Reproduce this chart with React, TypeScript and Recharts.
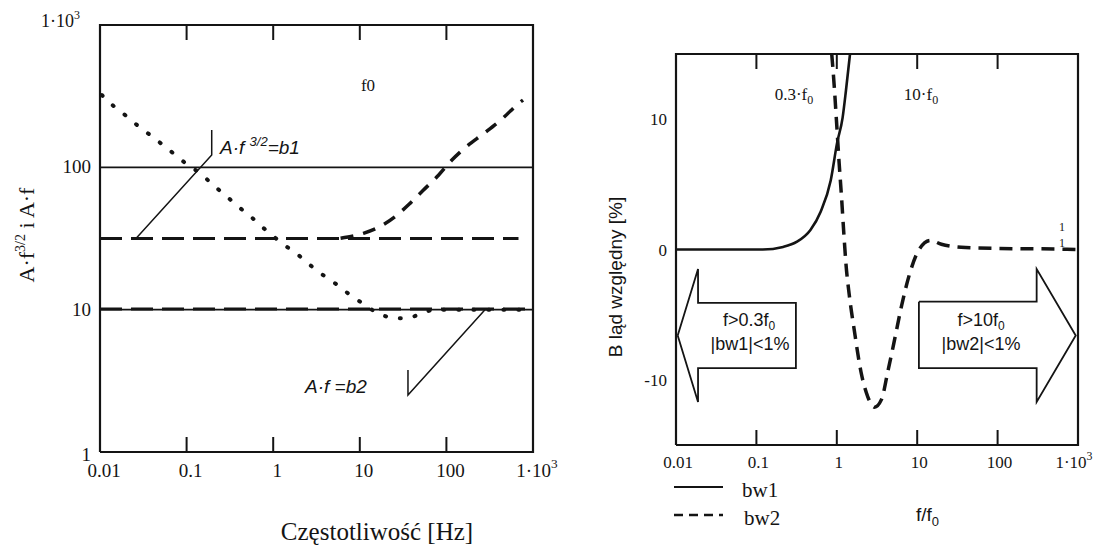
import React from 'react';
import { LineChart, Line, XAxis, YAxis } from 'recharts';

// shared frequency axis (decades)
const freqTicks = [0.01, 0.1, 1, 10, 100, 1000];
const innerFreqTicks = [0.1, 1, 10, 100];

// left panel: A·f^{3/2} and A·f vs frequency
const levelTicks = [1, 10, 100, 1000];
const levelB1 = [{ f: 0.01, v: 100 }, { f: 1000, v: 100 }];
const levelB2 = [{ f: 0.01, v: 10 }, { f: 1000, v: 10 }];
const plateauHigh = [{ f: 0.01, v: 31.6 }, { f: 680, v: 31.6 }];
const plateauLow = [{ f: 0.01, v: 10.1 }, { f: 1000, v: 10.1 }];
const af32 = [
  { f: 6, v: 31.8 }, { f: 11, v: 34.4 }, { f: 17, v: 38.3 }, { f: 25.5, v: 45 },
  { f: 38, v: 55.8 }, { f: 54, v: 69 }, { f: 81, v: 88 }, { f: 115, v: 112 },
  { f: 171, v: 140 }, { f: 267, v: 172 }, { f: 436, v: 218 }, { f: 677, v: 280 },
  { f: 767, v: 297 },
];
const af = [
  { f: 0.0105, v: 322 }, { f: 0.0143, v: 270 }, { f: 0.0195, v: 233 }, { f: 0.0277, v: 195 },
  { f: 0.0378, v: 169 }, { f: 0.077, v: 120 }, { f: 0.105, v: 103 }, { f: 0.143, v: 91 },
  { f: 0.203, v: 75 }, { f: 0.277, v: 64 }, { f: 0.395, v: 53 }, { f: 0.54, v: 45.5 },
  { f: 0.74, v: 38.3 }, { f: 1.43, v: 27.7 }, { f: 1.95, v: 24.2 }, { f: 2.66, v: 20.6 },
  { f: 3.63, v: 17.8 }, { f: 5.2, v: 15.3 }, { f: 7.1, v: 13.2 }, { f: 9.6, v: 11.6 },
  { f: 17.9, v: 9.2 }, { f: 25.5, v: 8.7 }, { f: 36, v: 8.7 }, { f: 47, v: 9.2 },
  { f: 75, v: 10 }, { f: 1000, v: 10 },
];
const pointerB1 = [{ f: 0.0265, v: 32 }, { f: 0.195, v: 122 }, { f: 0.195, v: 183 }];
const pointerB2 = [{ f: 279, v: 10 }, { f: 36, v: 2.51 }, { f: 36, v: 3.77 }];

// right panel: relative error vs f/f0
const errorTicks = [-10, 0, 10];
const bw1 = [
  { f: 0.01, v: 0 }, { f: 0.12, v: 0 }, { f: 0.215, v: 0.2 }, { f: 0.32, v: 0.6 },
  { f: 0.47, v: 1.5 }, { f: 0.63, v: 2.9 }, { f: 0.84, v: 5.3 }, { f: 1.01, v: 8.2 },
  { f: 1.18, v: 10.1 }, { f: 1.3, v: 12.2 }, { f: 1.46, v: 15 },
];
const bw2 = [
  { f: 0.865, v: 15 }, { f: 0.93, v: 12.5 }, { f: 0.99, v: 9.9 }, { f: 1.07, v: 6.6 },
  { f: 1.14, v: 4.2 }, { f: 1.23, v: 1.0 }, { f: 1.3, v: -1.1 }, { f: 1.43, v: -3.5 },
  { f: 1.65, v: -6.2 }, { f: 2.0, v: -9.4 }, { f: 2.43, v: -11.3 }, { f: 2.94, v: -12.1 },
  { f: 3.6, v: -11.5 }, { f: 4.3, v: -9.4 }, { f: 5.2, v: -7.0 }, { f: 6.4, v: -4.3 },
  { f: 8.2, v: -1.7 }, { f: 10.4, v: -0.07 }, { f: 14.6, v: 0.7 }, { f: 20, v: 0.4 },
  { f: 40, v: 0.15 }, { f: 106, v: 0.08 }, { f: 607, v: 0.03 }, { f: 1000, v: 0 },
];
const arrowLow = [
  { f: 0.0105, v: -6.6 }, { f: 0.0188, v: -1.5 }, { f: 0.0188, v: -4.1 }, { f: 0.31, v: -4.1 },
  { f: 0.31, v: -9.1 }, { f: 0.0188, v: -9.1 }, { f: 0.0188, v: -11.7 }, { f: 0.0105, v: -6.6 },
];
const arrowHigh = [
  { f: 10.5, v: -4.0 }, { f: 306, v: -4.0 }, { f: 306, v: -1.5 }, { f: 937, v: -6.6 },
  { f: 306, v: -11.7 }, { f: 306, v: -9.1 }, { f: 10.5, v: -9.1 }, { f: 10.5, v: -4.0 },
];

const INK = '#141414';
const SERIF = '"Liberation Serif", "Times New Roman", serif';
const SANS = '"Liberation Sans", Arial, sans-serif';

// plot boxes (page px) fixed by the chart margins below
const LEFT_BOX = { x: 100, y: 25, w: 433, h: 427 };
const RIGHT_BOX = { x: 676, y: 54, w: 402, h: 391 };
const TICK_LEN = 15;

const fmtFreq = (v: number, fs: number) =>
  v === 1000 ? (
    <>
      1·10<tspan dy={-fs * 0.45} fontSize={fs * 0.7}>3</tspan>
    </>
  ) : (
    String(v)
  );

function makeXTick(fs: number, dx: number, dy: number, lastDx: number) {
  return (props: any) => {
    const { x, y, payload } = props;
    const v = payload.value;
    return (
      <text x={x + dx + (v === 1000 ? lastDx : 0)} y={y + dy} textAnchor="middle" fontFamily={SERIF} fontSize={fs} fill={INK}>
        {fmtFreq(v, fs)}
      </text>
    );
  };
}

function LevelTick(props: any) {
  const { x, y, payload } = props;
  const v = payload.value;
  if (v === 1000) {
    return (
      <text x={x - 20} y={y + 2} textAnchor="end" fontFamily={SERIF} fontSize={18} fill={INK}>
        1·10<tspan dy={-8} fontSize={12}>3</tspan>
      </text>
    );
  }
  return (
    <text x={x - 9} y={y + (v === 1 ? 9 : 6)} textAnchor="end" fontFamily={SERIF} fontSize={19} fill={INK}>
      {v}
    </text>
  );
}

function ErrorTick(props: any) {
  const { x, y, payload } = props;
  return (
    <text x={x - 9} y={y + 6} textAnchor="end" fontFamily={SERIF} fontSize={17} fill={INK}>
      {payload.value}
    </text>
  );
}

const leftXTick = makeXTick(19, 4, 25, 0);
const rightXTick = makeXTick(17, 2, 23, -6);

const levelFrame = [{ f: 0.01, v: 1 }, { f: 1000, v: 1 }, { f: 1000, v: 1000 }, { f: 0.01, v: 1000 }, { f: 0.01, v: 1 }];
const errorFrame = [{ f: 0.01, v: -15 }, { f: 1000, v: -15 }, { f: 1000, v: 15 }, { f: 0.01, v: 15 }, { f: 0.01, v: -15 }];

// inward decade tick marks on top and bottom edges of a log-x box
function DecadeTicks({ box }: { box: { x: number; y: number; w: number; h: number } }) {
  const px = (t: number) => box.x + ((Math.log10(t) + 2) / 5) * box.w;
  return (
    <g>
      {innerFreqTicks.map((t) => (
        <g key={t}>
          <line x1={px(t)} y1={box.y + box.h} x2={px(t)} y2={box.y + box.h - TICK_LEN} stroke={INK} strokeWidth={2} />
          <line x1={px(t)} y1={box.y} x2={px(t)} y2={box.y + TICK_LEN} stroke={INK} strokeWidth={2} />
        </g>
      ))}
    </g>
  );
}

export default function App() {
  return (
    <div style={{ position: 'absolute', left: 0, top: 0, width: 1093, height: 545, background: '#fff', overflow: 'hidden' }}>
      <div style={{ position: 'absolute', left: 0, top: 0 }}>
        <LineChart width={560} height={545} margin={{ top: 25, left: 60, right: 27, bottom: 53 }}>
          <XAxis
            dataKey="f" type="number" scale="log" domain={[0.01, 1000]}
            ticks={freqTicks} interval={0} height={40} tickSize={0} tickMargin={0}
            axisLine={false} tickLine={false} tick={leftXTick}
          />
          <YAxis
            dataKey="v" type="number" scale="log" domain={[1, 1000]}
            ticks={levelTicks} interval={0} width={40} tickSize={0} tickMargin={0}
            axisLine={false} tickLine={false} tick={<LevelTick />}
          />
          <Line data={levelFrame} dataKey="v" stroke={INK} strokeWidth={2.2} dot={false} isAnimationActive={false} />
          <Line data={levelB1} dataKey="v" stroke={INK} strokeWidth={1.6} dot={false} isAnimationActive={false} />
          <Line data={levelB2} dataKey="v" stroke={INK} strokeWidth={1.8} dot={false} isAnimationActive={false} />
          <Line data={plateauHigh} dataKey="v" stroke={INK} strokeWidth={3} strokeDasharray="22 9" dot={false} isAnimationActive={false} />
          <Line data={plateauLow} dataKey="v" stroke={INK} strokeWidth={3} strokeDasharray="22 9" dot={false} isAnimationActive={false} />
          <Line data={af32} dataKey="v" type="monotone" stroke={INK} strokeWidth={3.5} strokeDasharray="13 10" dot={false} isAnimationActive={false} />
          <Line data={af} dataKey="v" type="monotone" stroke={INK} strokeWidth={4} strokeDasharray="1 14" strokeLinecap="round" dot={false} isAnimationActive={false} />
          <Line data={pointerB1} dataKey="v" stroke={INK} strokeWidth={1.5} dot={false} isAnimationActive={false} />
          <Line data={pointerB2} dataKey="v" stroke={INK} strokeWidth={1.5} dot={false} isAnimationActive={false} />
        </LineChart>
      </div>

      <div style={{ position: 'absolute', left: 560, top: 0 }}>
        <LineChart width={533} height={545} margin={{ top: 54, left: 76, right: 15, bottom: 60 }}>
          <XAxis
            dataKey="f" type="number" scale="log" domain={[0.01, 1000]}
            ticks={freqTicks} interval={0} height={40} tickSize={0} tickMargin={0}
            axisLine={false} tickLine={false} tick={rightXTick}
          />
          <YAxis
            dataKey="v" type="number" domain={[-15, 15]}
            ticks={errorTicks} interval={0} width={40} tickSize={0} tickMargin={0}
            axisLine={false} tickLine={false} tick={<ErrorTick />}
          />
          <Line data={errorFrame} dataKey="v" stroke={INK} strokeWidth={2.2} dot={false} isAnimationActive={false} />
          <Line data={arrowLow} dataKey="v" stroke={INK} strokeWidth={1.8} dot={false} isAnimationActive={false} />
          <Line data={arrowHigh} dataKey="v" stroke={INK} strokeWidth={1.8} dot={false} isAnimationActive={false} />
          <Line data={bw1} dataKey="v" type="monotone" stroke={INK} strokeWidth={2.6} dot={false} isAnimationActive={false} />
          <Line data={bw2} dataKey="v" type="monotone" stroke={INK} strokeWidth={3.5} strokeDasharray="13 8" dot={false} isAnimationActive={false} />
        </LineChart>
      </div>

      <svg width={1093} height={545} style={{ position: 'absolute', left: 0, top: 0, pointerEvents: 'none' }}>
        <DecadeTicks box={LEFT_BOX} />
        <DecadeTicks box={RIGHT_BOX} />

        {/* left panel texts */}
        <text transform="translate(34,235) rotate(-90)" textAnchor="middle" fontFamily={SERIF} fontSize={22} fill={INK}>
          A·f<tspan dy={-9} fontSize={14}>3/2</tspan><tspan dy={9}> i A·f</tspan>
        </text>
        <text x={377} y={540} textAnchor="middle" fontFamily={SERIF} fontSize={25} fill={INK}>Częstotliwość [Hz]</text>
        <text x={368} y={91} textAnchor="middle" fontFamily={SERIF} fontSize={17} fill={INK}>f0</text>
        <text x={220} y={154} fontFamily={SANS} fontStyle="italic" fontSize={19} fill={INK}>
          A·f <tspan dy={-8} fontSize={13}>3/2</tspan><tspan dy={8}>=b1</tspan>
        </text>
        <text x={305} y={393} fontFamily={SANS} fontStyle="italic" fontSize={19} fill={INK}>A·f =b2</text>

        {/* right panel texts */}
        <text transform="translate(622,277) rotate(-90)" textAnchor="middle" fontFamily={SANS} fontSize={19} fill={INK}>
          B  ląd względny [%]
        </text>
        <text x={794} y={100} textAnchor="middle" fontFamily={SERIF} fontSize={17} fill={INK}>
          0.3·f<tspan dy={4} fontSize={12}>0</tspan>
        </text>
        <text x={921} y={100} textAnchor="middle" fontFamily={SERIF} fontSize={17} fill={INK}>
          10·f<tspan dy={4} fontSize={12}>0</tspan>
        </text>
        <text x={1062} y={231} textAnchor="middle" fontFamily={SERIF} fontSize={12} fill={INK}>1</text>
        <text x={1062} y={247} textAnchor="middle" fontFamily={SERIF} fontSize={12} fill={INK}>1</text>
        <text x={749} y={326} textAnchor="middle" fontFamily={SANS} fontSize={18} fill={INK}>
          f&gt;0.3f<tspan dy={4} fontSize={12}>0</tspan>
        </text>
        <text x={750} y={350} textAnchor="middle" fontFamily={SANS} fontSize={18} fill={INK}>|bw1|&lt;1%</text>
        <text x={981} y={326} textAnchor="middle" fontFamily={SANS} fontSize={18} fill={INK}>
          f&gt;10f<tspan dy={4} fontSize={12}>0</tspan>
        </text>
        <text x={981} y={350} textAnchor="middle" fontFamily={SANS} fontSize={18} fill={INK}>|bw2|&lt;1%</text>
        <text x={916} y={521} fontFamily={SANS} fontSize={19} fill={INK}>
          f/f<tspan dy={5} fontSize={13}>0</tspan>
        </text>

        {/* legend */}
        <line x1={674} y1={487} x2={723} y2={487} stroke={INK} strokeWidth={2.2} />
        <text x={742} y={497} fontFamily={SERIF} fontSize={21} fill={INK}>bw1</text>
        <line x1={674} y1={515} x2={723} y2={515} stroke={INK} strokeWidth={2.6} strokeDasharray="9 6" />
        <text x={744} y={525} fontFamily={SERIF} fontSize={21} fill={INK}>bw2</text>
      </svg>
    </div>
  );
}
